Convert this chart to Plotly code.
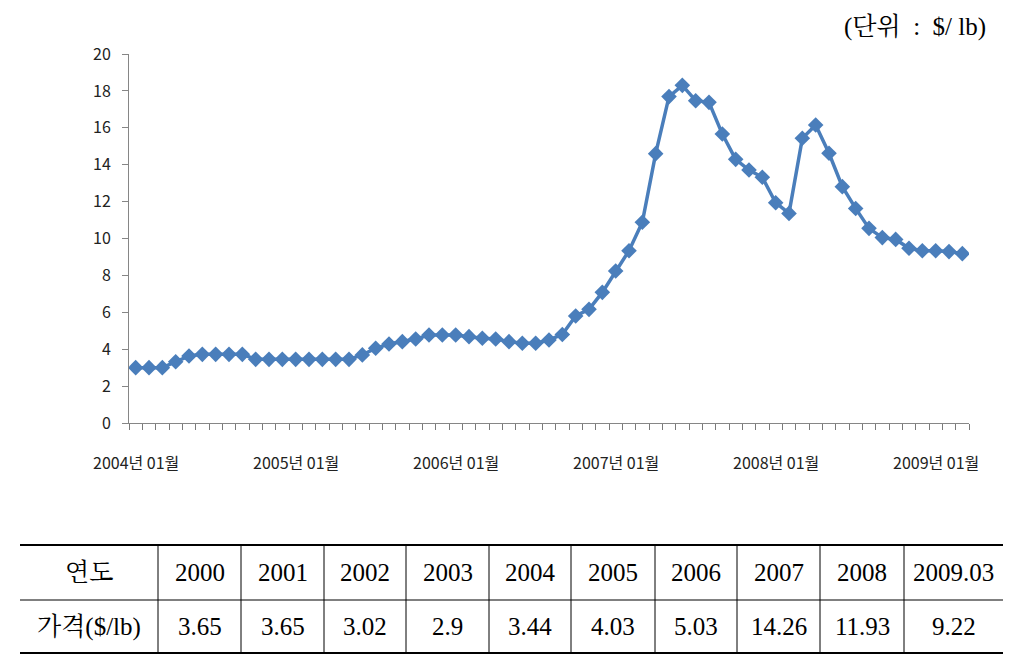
import plotly.graph_objects as go

# Monthly price 2004-01 .. 2009-03 ($/lb)
MONTHS = [f"{y}년 {m:02d}월" for y in range(2004, 2010) for m in range(1, 13)][:63]
PRICES = [
    3.00, 3.00, 3.00, 3.32, 3.63, 3.72, 3.72, 3.72, 3.72, 3.45, 3.45, 3.45,
    3.45, 3.45, 3.45, 3.45, 3.45, 3.69, 4.05, 4.28, 4.41, 4.55, 4.77, 4.77,
    4.77, 4.68, 4.59, 4.55, 4.41, 4.32, 4.32, 4.50, 4.80, 5.80, 6.16, 7.08,
    8.24, 9.34, 10.88, 14.60, 17.69, 18.30, 17.47, 17.38, 15.66, 14.29, 13.71, 13.32,
    11.94, 11.36, 15.43, 16.15, 14.62, 12.81, 11.63, 10.55, 10.05, 9.95, 9.47, 9.34,
    9.34, 9.29, 9.18,
]
LABEL_EVERY = 12

# Annual table under the chart
TABLE_HEADER = ["연도", "가격($/lb)"]
TABLE_YEARS = ["2000", "2001", "2002", "2003", "2004", "2005", "2006", "2007", "2008", "2009.03"]
TABLE_PRICES = ["3.65", "3.65", "3.02", "2.9", "3.44", "4.03", "5.03", "14.26", "11.93", "9.22"]

W, H = 1009, 666
BLUE = "#4A7EBB"
AXIS = "#868686"
SERIF = "Liberation Serif, Noto Serif CJK KR, Noto Sans CJK KR, serif"
SANS = "Noto Sans CJK KR, Noto Sans, sans-serif"


def px(x):
    return x / W


def py(y):
    return 1 - y / H


x_idx = list(range(len(PRICES)))
x_range = [-0.5, len(PRICES) - 0.5]

fig = go.Figure()
fig.add_trace(go.Scatter(
    x=x_idx, y=PRICES,
    mode="lines+markers",
    line=dict(color=BLUE, width=3.5),
    marker=dict(symbol="diamond", size=12, color=BLUE),
    hovertext=MONTHS, hoverinfo="text+y",
    showlegend=False,
))

fig.update_layout(
    width=W, height=H,
    margin=dict(l=0, r=0, t=0, b=0, autoexpand=False),
    plot_bgcolor="white", paper_bgcolor="white",
    # ticks on category boundaries; labels added below
    xaxis=dict(
        domain=[px(129), px(969)],
        range=x_range,
        tickmode="array", tickvals=[i - 0.5 for i in range(len(PRICES) + 1)],
        ticks="outside", ticklen=6, tickwidth=1.2, tickcolor="#7a7a7a",
        showticklabels=False,
        showgrid=False, zeroline=False,
        showline=True, linecolor=AXIS, linewidth=1,
    ),
    yaxis=dict(
        domain=[py(423), py(54)],
        range=[0, 20], dtick=2,
        ticks="outside", ticklen=6, tickcolor=AXIS, ticklabelstandoff=8,
        tickfont=dict(family=SANS, size=16, color="#222"),
        showgrid=False, zeroline=False,
        showline=True, linecolor=AXIS, linewidth=1,
    ),
)

# month labels every 12 months, centred on their category
for i in x_idx[::LABEL_EVERY]:
    fig.add_annotation(
        x=i, xref="x", y=py(462), yref="paper",
        xanchor="center", yanchor="middle", showarrow=False,
        text=MONTHS[i], font=dict(family=SANS, size=16, color="#222"),
    )

# unit note
fig.add_annotation(
    x=px(988), y=py(27), xref="paper", yref="paper",
    xanchor="right", yanchor="middle", showarrow=False,
    text="(단위  :  $/ lb)", font=dict(family=SERIF, size=25, color="black"),
)

# table grid
col_edges = [20, 158, 241, 324, 406, 489, 571, 655, 737, 820, 904, 1003]
row_edges = [545, 600, 653]
for i, yy in enumerate(row_edges):
    fig.add_shape(type="line", xref="paper", yref="paper",
                  x0=px(col_edges[0]), x1=px(col_edges[-1]), y0=py(yy), y1=py(yy),
                  line=dict(color="black", width=2 if i != 1 else 1))
for xx in col_edges[1:-1]:
    fig.add_shape(type="line", xref="paper", yref="paper",
                  x0=px(xx), x1=px(xx), y0=py(row_edges[0]), y1=py(row_edges[-1]),
                  line=dict(color="black", width=1))

rows = [[TABLE_HEADER[0]] + TABLE_YEARS, [TABLE_HEADER[1]] + TABLE_PRICES]
for r, row in enumerate(rows):
    yc = (row_edges[r] + row_edges[r + 1]) / 2
    for c, txt in enumerate(row):
        xc = (col_edges[c] + col_edges[c + 1]) / 2
        fig.add_annotation(
            x=px(xc), y=py(yc), xref="paper", yref="paper",
            xanchor="center", yanchor="middle", showarrow=False,
            text=txt, font=dict(family=SERIF, size=25, color="black"),
        )

# page body has a default 8px margin; drop it so the figure sits at (0, 0)
fig.write_html(
    "out.html",
    config={"displayModeBar": False},
    post_script="document.body.style.margin='0';",
)
